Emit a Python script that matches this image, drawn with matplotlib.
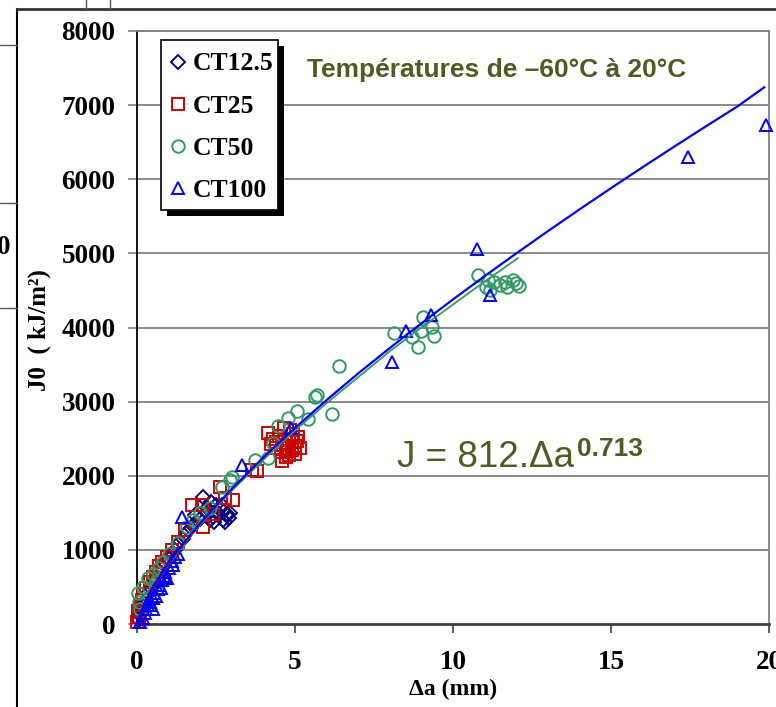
import matplotlib
matplotlib.use("Agg")
import matplotlib.pyplot as plt
from matplotlib.lines import Line2D
from matplotlib.patches import Rectangle

# ---------------- data ----------------
ct125_x = [0.05, 0.1, 0.15, 0.2, 0.3, 0.35, 0.45, 0.55, 0.6, 0.7, 0.8, 0.9, 1.0, 1.1, 1.2, 1.3, 1.45, 1.55, 1.7, 1.8,
           2.09, 1.84, 2.0, 2.2, 2.3, 2.4, 2.5, 2.63, 2.72, 2.6, 2.8, 2.9, 2.75, 2.5, 2.45, 2.85, 2.7, 2.2, 2.95, 2.35]
ct125_y = [50, 120, 200, 260, 330, 420, 480, 560, 600, 680, 750, 820, 880, 950, 1000, 1080, 1150, 1230, 1290, 1350,
           1714, 1471, 1420, 1500, 1403, 1450, 1520, 1565, 1403, 1470, 1380, 1430, 1520, 1600, 1380, 1480, 1600, 1560, 1500, 1640]

ct25_x = [0.0, 0.05, 0.02, 0.1, 0.15, 0.2, 0.3, 0.4, 0.5, 0.6, 0.7, 0.8, 0.95, 1.1, 1.3, 1.52, 1.74, 2.06, 2.09, 2.4,
          2.63, 2.8, 3.04, 3.64, 3.8,
          4.15, 4.3, 4.4, 4.5, 4.6, 4.7, 4.75, 4.8, 4.9, 5.0, 5.05, 5.1, 4.95, 4.85, 4.65, 4.55, 4.7, 4.9, 5.0, 4.4,
          4.25, 5.15, 4.6, 4.8]
ct25_y = [30, 100, 180, 250, 320, 400, 480, 560, 640, 700, 780, 830, 900, 1000, 1100, 1268, 1606, 1606, 1309, 1480,
          1849, 1700, 1673, 2078, 2070,
          2578, 2500, 2460, 2540, 2420, 2380, 2330, 2280, 2350, 2400, 2470, 2520, 2560, 2620, 2640, 2320, 2250, 2450, 2300, 2380,
          2430, 2380, 2200, 2500]

ct50_x = [0.03, 0.05, 0.1, 0.2, 0.35, 0.5, 0.6, 0.7, 0.82, 1.0, 1.3, 1.58, 1.77, 2.0, 2.3, 2.69, 2.94, 3.0, 3.73, 4.15,
          4.3, 4.46, 4.78, 5.06, 5.41, 5.63, 5.7, 6.17, 6.39, 8.13, 8.7, 8.9, 9.05, 9.34, 9.4, 9.0,
          10.8, 11.1, 11.06, 11.3, 11.65, 11.9, 12.0, 11.17, 11.7, 12.1, 11.5]
ct50_y = [418, 300, 200, 500, 621, 680, 560, 760, 837, 950, 1093, 1309, 1403, 1500, 1560, 1849, 1943, 1984, 2213, 2240,
          2443, 2672, 2780, 2875, 2767, 3063, 3090, 2834, 3482, 3927, 3870, 3738, 4143, 4008, 3887, 3950,
          4710, 4640, 4548, 4615, 4615, 4642, 4600, 4507, 4550, 4560, 4580]

ct100_x = [0.1, 0.2, 0.25, 0.3, 0.35, 0.4, 0.45, 0.5, 0.55, 0.6, 0.65, 0.7, 0.75, 0.8, 0.85, 0.9, 0.95, 1.0, 1.1, 1.2,
           1.3, 1.15, 0.5, 1.42, 3.32, 4.87, 8.07, 8.51, 9.3, 10.76, 11.17, 17.44, 19.9]
ct100_y = [30, 80, 150, 200, 250, 300, 260, 350, 420, 380, 470, 520, 480, 600, 650, 700, 620, 760, 850, 900,
           950, 800, 200, 1444, 2146, 2645, 3536, 3954, 4170, 5061, 4440, 6302, 6734]

fit100_x = [0, 0.25, 0.5, 1, 1.5, 2, 3, 4, 5, 6, 7, 8, 9, 10, 11, 12, 13, 14, 15, 16, 17, 18, 19, 19.85]
fit100_y = [0, 300, 496, 821, 1103, 1359, 1824, 2249, 2645, 3021, 3381, 3723, 4056, 4379, 4693, 4999, 5299, 5592,
            5880, 6162, 6440, 6713, 6982, 7240]
fit50_x = [0, 0.25, 0.5, 1, 1.5, 2, 3, 4, 5, 6, 7, 8, 9, 10, 11, 12.05]
fit50_y = [0, 310, 500, 810, 1090, 1340, 1800, 2220, 2610, 2980, 3330, 3680, 4000, 4310, 4620, 4935]
fit25_x = [0, 0.25, 0.5, 1, 1.5, 2, 3, 4, 5.0]
fit25_y = [0, 280, 470, 790, 1080, 1340, 1800, 2220, 2610]
fit125_x = [0, 0.25, 0.5, 1, 1.5, 2, 3]
fit125_y = [0, 290, 480, 800, 1090, 1350, 1810]

labels = ["CT12.5", "CT25", "CT50", "CT100"]
xticks = [0, 5, 10, 15, 20]
yticks = [0, 1000, 2000, 3000, 4000, 5000, 6000, 7000, 8000]

# ---------------- styling ----------------
W, H = 776, 707
fig = plt.figure(figsize=(W / 100, H / 100), dpi=100)
SERIF = ["Liberation Serif", "DejaVu Serif"]
SANS = ["Liberation Sans", "DejaVu Sans"]
OLIVE = "#4F5B20"

def fx(px):
    return px / W

def fy(py):
    return 1 - py / H

ax = fig.add_axes([fx(137), fy(624), (769 - 137) / W, (624 - 31) / H])
ax.set_xlim(0, 20)
ax.set_ylim(0, 8000)

for y in yticks[1:]:
    ax.axhline(y, color="#808080", lw=1.3, zorder=0)

c125, c25, c50, c100 = "#000080", "#D00000", "#339966", "#0000FF"
mew = 1.4
h1, = ax.plot(ct125_x, ct125_y, ls="none", marker="D", ms=7.3, mfc="none", mec=c125, mew=mew, clip_on=False, zorder=3)
h2, = ax.plot(ct25_x, ct25_y, ls="none", marker="s", ms=9, mfc="none", mec=c25, mew=mew, clip_on=False, zorder=3)
h3, = ax.plot(ct50_x, ct50_y, ls="none", marker="o", ms=9, mfc="none", mec=c50, mew=mew, clip_on=False, zorder=3)
h4, = ax.plot(ct100_x, ct100_y, ls="none", marker="^", ms=9, mfc="none", mec=c100, mew=mew, clip_on=False, zorder=3)

ax.plot(fit125_x, fit125_y, color=c125, lw=1.0, zorder=4)
ax.plot(fit25_x, fit25_y, color=c25, lw=1.0, zorder=4)
ax.plot(fit50_x, fit50_y, color=c50, lw=1.3, zorder=4)
ax.plot(fit100_x, fit100_y, color=c100, lw=1.6, zorder=4)

ax.set_xticks(xticks)
ax.set_yticks(yticks)
ax.set_xticklabels([str(v) for v in xticks])
ax.set_yticklabels([str(v) for v in yticks])
for lab in ax.get_xticklabels() + ax.get_yticklabels():
    lab.set_fontfamily(SERIF)
    lab.set_fontweight("bold")
    lab.set_fontsize(19.5)
ax.tick_params(axis="y", direction="out", length=6.5, width=1.2, color="#808080", pad=9)
ax.tick_params(axis="x", direction="out", length=6.5, width=1.2, color="#404040", pad=12)

ax.spines["left"].set_color("black")
ax.spines["left"].set_linewidth(1.3)
ax.spines["bottom"].set_color("#404040")
ax.spines["bottom"].set_linewidth(2.0)
for s in ("top", "right"):
    ax.spines[s].set_color("#808080")
    ax.spines[s].set_linewidth(1.3)

# axis labels
fig.text(fx(453), fy(689), "\u0394a (mm)", family=SERIF, weight="bold", fontsize=17, ha="center", va="center")
fig.text(fx(39), fy(330), "J0  ( kJ/m\u00b2)", family=SERIF, weight="bold", fontsize=18, ha="center", va="center",
         rotation=90)

# title and equation
fig.text(fx(307), fy(70), "Températures de \u201360°C à 20°C", family=SANS, weight="bold", fontsize=19,
         color=OLIVE, ha="left", va="center")
eq = fig.text(fx(397), fy(467), "J = 812.\u0394a", family=SANS, fontsize=26.5, color=OLIVE, ha="left", va="baseline")

# legend (frame drawn separately with a drop shadow)
leg = ax.legend([h1, h2, h3, h4], labels, loc="upper left",
                bbox_to_anchor=((167.5 - 137) / 632, (624 - 52.5) / 593),
                borderaxespad=0, frameon=False,
                prop={"family": SERIF, "weight": "bold", "size": 18.5}, handlelength=0.82, handletextpad=0.17,
                labelspacing=0.75, borderpad=0, numpoints=1)
leg.set_zorder(7)
ax.add_patch(Rectangle((fx(167), fy(216)), (278 - 161) / W, (210 - 40) / H, transform=fig.transFigure,
                       facecolor="black", edgecolor="none", zorder=5.5, clip_on=False))
ax.add_patch(Rectangle((fx(161), fy(210)), (278 - 161) / W, (210 - 40) / H, transform=fig.transFigure,
                       facecolor="white", edgecolor="black", lw=1.2, zorder=6, clip_on=False))

# frame and artifacts
fig.add_artist(Line2D([fx(17), fx(17)], [0, fy(9)], color="black", lw=1.5))
fig.add_artist(Line2D([fx(17), 1], [fy(9), fy(9)], color="#333333", lw=2))
for yy in (45, 203, 308):
    fig.add_artist(Line2D([0, fx(17)], [fy(yy), fy(yy)], color="#555555", lw=1))
for xx in (86, 110):
    fig.add_artist(Line2D([fx(xx), fx(xx)], [fy(0), fy(9)], color="#555555", lw=1))
fig.text(fx(10), fy(248), "0", family=SERIF, weight="bold", fontsize=19.5, ha="right", va="center")

fig.canvas.draw()
r = fig.canvas.get_renderer()
bb = eq.get_window_extent(r)
fig.text((bb.x1 + 3) / W, (bb.y0 + (467 - 453)) / H, "0.713", family=SANS, weight="bold", fontsize=19,
         color=OLIVE, ha="left", va="bottom")

fig.savefig("out.png", dpi=100)
